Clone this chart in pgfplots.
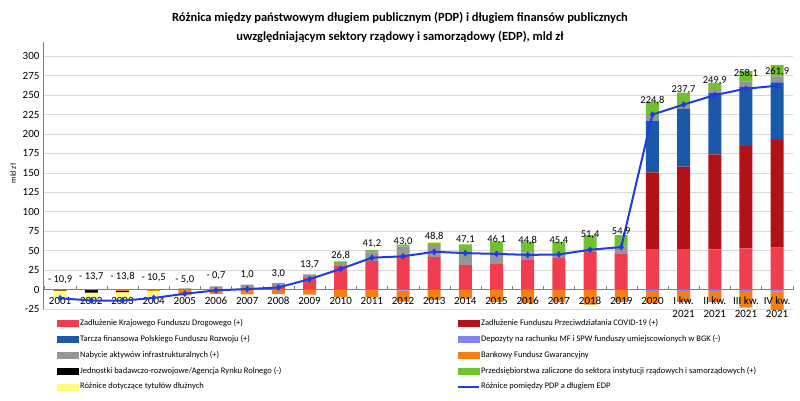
\documentclass[border=0pt]{standalone}
\usepackage{fontspec}
\setmainfont{Carlito}
\usepackage{pgfplots}
\usepackage{pgfplotstable}
\pgfplotsset{compat=1.18}

\definecolor{kfd}{RGB}{240,62,80}
\definecolor{covid}{RGB}{176,18,24}
\definecolor{pfr}{RGB}{28,88,168}
\definecolor{infra}{RGB}{150,150,150}
\definecolor{depo}{RGB}{130,130,240}
\definecolor{bfg}{RGB}{242,128,20}
\definecolor{przed}{RGB}{112,192,48}
\definecolor{yel}{RGB}{255,250,130}
\definecolor{lineblue}{RGB}{30,60,225}

% wartosci w mld zl
\pgfplotstableread{
x   KFD   COV    PFR   INF   PRZ   YEP  DEP   BFG    JBR   YEN    LINE
0   0     0      0     0     0     0    0     -0.8   -0.7  -9.4   -10.9
1   0     0      0     0     0     0    0     -0.5   -3.0  -10.2  -13.7
2   0     0      0     0     0     0    0     -1.5   -1.5  -10.8  -13.8
3   0     0      0     0     0     0    0     -1.5   0     -9.0   -10.5
4   0     0      0     2.0   0     0    0     -7.0   0     0      -5.0
5   1.5   0      0     3.0   0     0    0     -5.2   0     0      -0.7
6   3.0   0      0     3.8   0     0    0     -5.8   0     0      1.0
7   4.0   0      0     4.5   0     0    0     -5.5   0     0      3.0
8   15.4  0      0     4.5   0     0    0     -6.2   0     0      13.7
9   31.5  0      0     3.0   2.0   0    0     -9.7   0     0      26.8
10  37.0  0      0     11.0  3.0   0    0     -9.8   0     0      41.2
11  42.0  0      0     13.5  2.5   0    -1.0  -14.0  0     0      43.0
12  42.4  0      0     14.0  4.0   1.3  0     -12.9  0     0      48.8
13  31.7  0      0     15.0  11.6  0    0     -11.2  0     0      47.1
14  33.8  0      0     15.0  12.9  0    0     -15.6  0     0      46.1
15  38.0  0      0     9.9   13.8  0    0     -16.9  0     0      44.8
16  41.6  0      0     5.0   15.0  0    0     -16.2  0     0      45.4
17  48.8  0      0     1.5   20.0  0    0     -18.9  0     0      51.4
18  46.7  0      0     8.6   15.0  0    0     -15.4  0     0      54.9
19  52.3  98.5   66.4  7.3   17.1  0    -1.5  -15.3  0     0      224.8
20  52.3  105.8  74.1  5.1   15.9  0    -1.5  -14.0  0     0      237.7
21  51.8  122.1  78.4  4.0   9.0   0    -1.5  -13.9  0     0      249.9
22  53.1  131.5  75.4  7.3   13.7  0    -1.5  -21.4  0     0      258.1
23  54.0  138.4  73.7  7.7   15.0  0    -2.0  -24.9  0     0      261.9
}\difftab

\pgfplotsset{
  base/.style={
    at={(0pt,0pt)}, anchor=south west,
    scale only axis, width=750pt, height=267.3pt,
    xmin=-0.55, xmax=23.51, ymin=-25, ymax=318,
    enlargelimits=false,
  },
  bars/.style={base, ybar stacked, bar width=13pt},
}

\newcommand{\legbar}[1]{\addlegendimage{legend image code/.code={\fill[#1] (0pt,-3pt) rectangle (21pt,3pt);}}}

\begin{document}
\begin{tikzpicture}
\path[use as bounding box] (-43pt,-90.7pt) rectangle (757pt,309.3pt);
% dodatnie skladniki, siatka, os y, tytul
\begin{axis}[bars,
  axis x line=none, axis y line*=left,
  axis line style={draw=black!50, line width=0.8pt},
  ymajorgrids, grid style={draw=black!15, line width=0.8pt},
  ytick={-25,0,25,...,300}, xtick=\empty,
  yticklabel style={font=\fontsize{11}{13}\selectfont},
  /pgf/number format/assume math mode=true,
  major tick length=0pt,
  ylabel={mld zł},
  ylabel style={font=\fontsize{8}{10}\selectfont, xshift=2pt},
  title={Różnica między państwowym długiem publicznym (PDP) i długiem finansów publicznych\\uwzględniającym sektory rządowy i samorządowy (EDP), mld zł},
  title style={at={(0.476,1)}, anchor=center, yshift=8.5pt, align=center,
    font=\fontsize{12.5}{19}\selectfont\bfseries},
]
\addplot[fill=kfd, draw=none] table[x=x, y=KFD]{\difftab};
\addplot[fill=covid, draw=none] table[x=x, y=COV]{\difftab};
\addplot[fill=pfr, draw=none] table[x=x, y=PFR]{\difftab};
\addplot[fill=infra, draw=none] table[x=x, y=INF]{\difftab};
\addplot[fill=przed, draw=none] table[x=x, y=PRZ]{\difftab};
\addplot[fill=yel, draw=none] table[x=x, y=YEP]{\difftab};
\end{axis}
% ujemne skladniki
\begin{axis}[bars, hide axis]
\addplot[fill=depo, draw=none] table[x=x, y=DEP]{\difftab};
\addplot[fill=bfg, draw=none] table[x=x, y=BFG]{\difftab};
\addplot[fill=black, draw=none] table[x=x, y=JBR]{\difftab};
\addplot[fill=yel, draw=none] table[x=x, y=YEN]{\difftab};
\end{axis}
% os x, linia roznicy, etykiety, legenda
\begin{axis}[base,
  axis x line*=middle, axis y line=none,
  axis line style={draw=black!50, line width=0.8pt},
  ytick=\empty,
  xtick={0,...,23},
  xticklabels={2001,2002,2003,2004,2005,2006,2007,2008,2009,2010,2011,2012,2013,2014,2015,2016,2017,2018,2019,2020,{I kw.\\2021},{II kw.\\2021},{III kw.\\2021},{IV kw.\\2021}},
  xticklabel style={font=\fontsize{11}{13}\selectfont, align=center, yshift=-4pt},
  major tick length=0pt,
  minor xtick={-0.5,0.5,...,23.5}, minor tick length=4pt,
  minor tick style={draw=black!50},
  legend columns=2, legend cell align=left,
  legend style={at={(0.0187,-0.0325)}, anchor=north west, draw=none, fill=none,
    inner sep=0pt, font=\fontsize{8.5}{10}\selectfont, row sep=5pt,
    nodes={inner sep=1.5pt, text height=6pt, text depth=1.8pt},
    /tikz/every even column/.append style={column sep=174pt}},
]
\addplot[color=lineblue, line width=2pt, mark=diamond*, mark size=3pt,
  mark options={line width=0.5pt}, forget plot] table[x=x, y=LINE]{\difftab};
\addplot[draw=none, mark=none, forget plot, point meta=explicit symbolic,
  nodes near coords,
  every node near coord/.append style={font=\fontsize{10.5}{12}\selectfont, anchor=center, text=black}]
  coordinates {(0,12.5)[- 10,9] (1,16.8)[- 13,7] (2,17.6)[- 13,8] (3,15.4)[- 10,5]
    (4,12.5)[- 5,0] (5,18)[- 0,7] (6,19.8)[1,0] (7,21)[3,0] (8,31.7)[13,7]
    (9,43.7)[26,8] (10,58.7)[41,2] (11,61.7)[43,0] (12,68)[48,8] (13,64.8)[47,1]
    (14,63.9)[46,1] (15,62.6)[44,8] (16,63.5)[45,4] (17,70.3)[51,4] (18,74.6)[54,9]
    (19,243)[224,8] (20,256.7)[237,7] (21,268)[249,9] (22,276.9)[258,1] (23,279.4)[261,9]};
\legbar{kfd}
\addlegendentry{Zadłużenie Krajowego Funduszu Drogowego (+)}
\legbar{covid}
\addlegendentry{Zadłużenie Funduszu Przeciwdziałania COVID-19 (+)}
\legbar{pfr}
\addlegendentry{Tarcza finansowa Polskiego Funduszu Rozwoju (+)}
\legbar{depo}
\addlegendentry{Depozyty na rachunku MF i SPW funduszy umiejscowionych w BGK (-)}
\legbar{infra}
\addlegendentry{Nabycie aktywów infrastrukturalnych (+)}
\legbar{bfg}
\addlegendentry{Bankowy Fundusz Gwarancyjny}
\legbar{black}
\addlegendentry{Jednostki badawczo-rozwojowe/Agencja Rynku Rolnego (-)}
\legbar{przed}
\addlegendentry{Przedsiębiorstwa zaliczone do sektora instytucji rządowych i samorządowych (+)}
\legbar{yel}
\addlegendentry{Różnice dotyczące tytułów dłużnych}
\addlegendimage{legend image code/.code={\draw[lineblue, line width=1.5pt] (0pt,0pt) -- (21pt,0pt);}}
\addlegendentry{Różnice pomiędzy PDP a długiem EDP}
\end{axis}
\end{tikzpicture}
\end{document}
